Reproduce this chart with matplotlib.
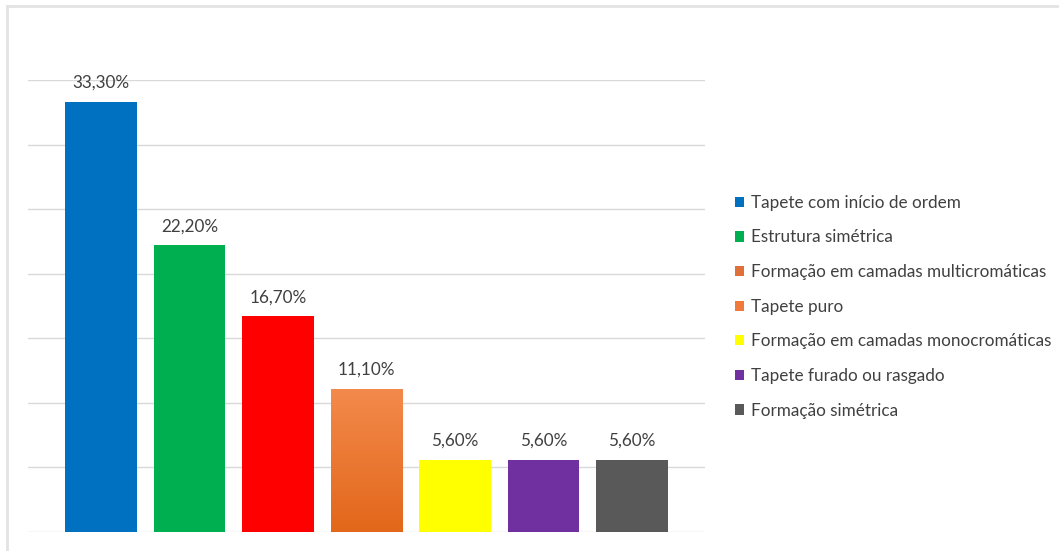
import matplotlib
matplotlib.use("Agg")
import matplotlib.pyplot as plt
import numpy as np
from matplotlib.lines import Line2D
from matplotlib.patches import Patch
from matplotlib.colors import LinearSegmentedColormap

categories = [
    "Tapete com início de ordem",
    "Estrutura simétrica",
    "Formação em camadas multicromáticas",
    "Tapete puro",
    "Formação em camadas monocromáticas",
    "Tapete furado ou rasgado",
    "Formação simétrica",
]
values = [33.3, 22.2, 16.7, 11.1, 5.6, 5.6, 5.6]
bar_colors = ["#0070C0", "#00B050", "#FF0000", "#F07A35", "#FFFF00", "#7030A0", "#595959"]
legend_colors = ["#0070C0", "#00B050", "#E0703A", "#F07A3A", "#FFFF00", "#7030A0", "#595959"]

plt.rcParams["font.family"] = ["Lato", "DejaVu Sans"]

fig = plt.figure(figsize=(10.59, 5.51), dpi=100)
W, H = 1059, 551
ax = fig.add_axes([28 / W, 1 - 532 / H, (705 - 28) / W, (532 - 80) / H])

x = np.arange(len(values))
bars = ax.bar(x, values, width=0.81, color=bar_colors, zorder=2)

# gradient fill for the orange bar
orange = bars[3]
grad = LinearSegmentedColormap.from_list("og", ["#E2671A", "#F38A4C"])
bx, by = orange.get_x(), orange.get_y()
bw, bh = orange.get_width(), orange.get_height()
img = ax.imshow(np.linspace(0, 1, 256).reshape(-1, 1), cmap=grad, origin="lower",
                extent=[bx, bx + bw, by, by + bh], aspect="auto", zorder=3)
img.set_clip_path(orange)

for xi, v in zip(x, values):
    ax.text(xi, v + 0.85, f"{v:.2f}%".replace(".", ","), ha="center", va="bottom",
            fontsize=12.3, color="#404040", zorder=4)

ax.set_xlim(-0.825, 6.825)
ax.set_ylim(0, 35)
ax.set_yticks(np.arange(0, 36, 5))
ax.yaxis.grid(True, color="#D9D9D9", linewidth=1, zorder=0)
ax.set_xticks([])
ax.tick_params(left=False, labelleft=False)
for s in ax.spines.values():
    s.set_visible(False)

handles = [Patch(facecolor=c, edgecolor="none") for c in legend_colors]
fig.legend(handles, categories, loc="upper left", bbox_to_anchor=(728 / W, 1 - 188 / H),
           frameon=False, fontsize=12.3, labelcolor="#404040",
           handlelength=0.55, handleheight=0.55, handletextpad=0.4, labelspacing=1.09,
           borderaxespad=0)

# frame lines along top and left edge
fig.add_artist(Line2D([7 / W, 1], [1 - 6 / H, 1 - 6 / H], transform=fig.transFigure,
                      color="#E3E3E3", linewidth=2))
fig.add_artist(Line2D([7 / W, 7 / W], [0, 1 - 6 / H], transform=fig.transFigure,
                      color="#E3E3E3", linewidth=2))

fig.savefig("out.png", dpi=100)
